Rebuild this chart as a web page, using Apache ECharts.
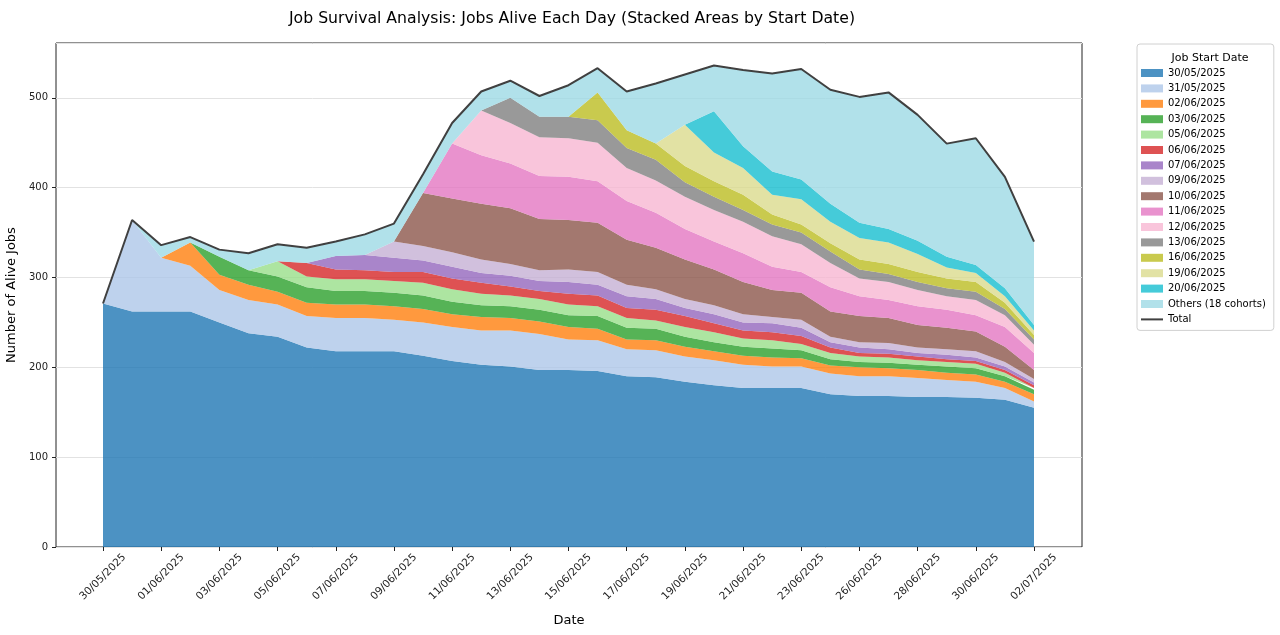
<!DOCTYPE html>
<html>
<head>
<meta charset="utf-8">
<script src="https://cdn.jsdelivr.net/npm/echarts@6/dist/echarts.min.js"></script>
<style>
  html, body { margin: 0; padding: 0; background: #fff; }
  #chart { width: 1280px; height: 635px; }
</style>
</head>
<body>
<div id="chart"></div>
<script>
// days on the x axis (one day is missing between 23/06 and 26/06)
const dates = ['30/05/2025','31/05/2025','01/06/2025','02/06/2025','03/06/2025','04/06/2025','05/06/2025',
  '06/06/2025','07/06/2025','08/06/2025','09/06/2025','10/06/2025','11/06/2025','12/06/2025','13/06/2025',
  '14/06/2025','15/06/2025','16/06/2025','17/06/2025','18/06/2025','19/06/2025','20/06/2025','21/06/2025',
  '22/06/2025','23/06/2025','24/06/2025','26/06/2025','27/06/2025','28/06/2025','29/06/2025','30/06/2025',
  '01/07/2025','02/07/2025'];

// alive jobs per start-date cohort, one value per day
const c3005 = [271,262,262,262,250,238,234,222,218,218,218,213,207,203,201,197,197,196,190,189,184,180,177,177,177,170,168,168,167,167,166,164,155];
const c3105 = [0,102,60,51,36,37,36,35,37,37,35,37,38,38,40,40,34,34,30,30,28,28,26,24,24,23,22,22,21,19,18,13,7];
const c0206 = [0,0,0,26,17,17,14,15,15,15,15,15,14,15,14,14,14,13,11,11,11,10,10,10,9,9,10,9,9,8,8,7,8];
const c0306 = [0,0,0,0,20,16,17,17,15,15,15,15,14,13,13,13,13,14,13,13,11,10,10,10,9,7,6,6,6,7,7,6,5];
const c0506 = [0,0,0,0,0,0,17,12,13,13,13,14,14,13,12,12,12,11,11,9,11,11,9,9,7,7,6,6,5,5,5,4,2];
const c0606 = [0,0,0,0,0,0,0,15,11,10,10,12,12,12,10,9,12,12,11,12,12,10,9,9,9,6,4,4,4,3,3,3,3];
const c0706 = [0,0,0,0,0,0,0,0,15,17,16,13,13,11,12,11,13,12,13,12,9,10,9,10,9,6,6,5,4,5,4,4,3];
const c0906 = [0,0,0,0,0,0,0,0,0,0,18,16,16,15,13,12,14,14,13,11,10,10,9,7,9,6,6,7,6,6,7,5,4];
const c1006 = [0,0,0,0,0,0,0,0,0,0,0,59,60,62,62,57,55,55,50,46,44,40,36,30,30,28,29,28,25,24,22,17,10];
const c1106 = [0,0,0,0,0,0,0,0,0,0,0,0,61,54,50,48,48,46,43,39,34,31,32,26,23,27,22,20,21,20,18,22,19];
const c1206 = [0,0,0,0,0,0,0,0,0,0,0,0,0,50,45,43,43,43,37,36,36,35,35,34,31,27,20,20,18,15,17,13,9];
const c1306 = [0,0,0,0,0,0,0,0,0,0,0,0,0,0,28,23,24,25,22,23,16,15,13,13,13,13,10,9,9,9,9,7,6];
const c1606 = [0,0,0,0,0,0,0,0,0,0,0,0,0,0,0,0,0,31,20,18,18,17,17,11,9,9,11,11,11,11,11,7,5];
const c1906 = [0,0,0,0,0,0,0,0,0,0,0,0,0,0,0,0,0,0,0,0,46,32,30,22,28,24,24,24,20,12,10,7,5];
const c2006 = [0,0,0,0,0,0,0,0,0,0,0,0,0,0,0,0,0,0,0,0,0,46,24,26,22,20,17,15,15,12,9,9,6];
const others = [0,0,14,6,8,19,19,17,16,23,20,21,23,21,19,23,35,27,43,67,56,51,85,109,123,127,140,152,140,126,141,124,93];

const cohortNames = ['30/05/2025','31/05/2025','02/06/2025','03/06/2025','05/06/2025','06/06/2025','07/06/2025',
  '09/06/2025','10/06/2025','11/06/2025','12/06/2025','13/06/2025','16/06/2025','19/06/2025','20/06/2025',
  'Others (18 cohorts)'];
const cohortValues = [c3005,c3105,c0206,c0306,c0506,c0606,c0706,c0906,c1006,c1106,c1206,c1306,c1606,c1906,c2006,others];

// tab20 colours, drawn with alpha 0.8
const colors = ['31,119,180','174,199,232','255,127,14','44,160,44','152,223,138','214,39,40','148,103,189',
  '197,176,213','140,86,75','227,119,194','247,182,210','127,127,127','188,189,34','219,219,141','23,190,207',
  '158,218,229'];

const total = dates.map((d, i) => cohortValues.reduce((s, arr) => s + arr[i], 0));
const font = 'DejaVu Sans';
const yMax = 561;

let series = cohortNames.map((name, k) => ({
  name: name,
  type: 'line',
  stack: 'alive',
  xAxisIndex: 1, yAxisIndex: 1,
  symbol: 'none',
  lineStyle: {width: 0, opacity: 0},
  itemStyle: {color: 'rgba(' + colors[k] + ',0.8)'},
  areaStyle: {color: 'rgba(' + colors[k] + ',0.8)', opacity: 1},
  data: cohortValues[k]
}));
series.push({
  name: 'Total',
  type: 'line',
  xAxisIndex: 1, yAxisIndex: 1,
  symbol: 'none',
  z: 4,
  itemStyle: {color: '#404040'},
  lineStyle: {color: '#404040', width: 2},
  data: total
});

let legendData = cohortNames.map(n => ({name: n, icon: 'rect'}));
legendData.push({name: 'Total', icon: 'path://M0,0H22V2H0Z'});

let option = {
  animation: false,
  backgroundColor: '#fff',
  textStyle: {fontFamily: font},
  title: [{
    text: 'Job Survival Analysis: Jobs Alive Each Day (Stacked Areas by Start Date)',
    left: 567, top: 6, textAlign: 'center',
    textStyle: {fontFamily: font, fontSize: 15.7, fontWeight: 'normal', color: '#000'}
  }, {
    text: 'Job Start Date',
    left: 1205, top: 48, textAlign: 'center',
    textStyle: {fontFamily: font, fontSize: 11, fontWeight: 'normal', color: '#000'}
  }],
  // grid 0: axes frame, y ticks and grid lines; grid 1: the dates and the areas
  grid: [
    {left: 56, right: 198, top: 43, bottom: 88, outerBoundsMode: 'none', containLabel: false,
      show: true, borderColor: '#222', borderWidth: 1, backgroundColor: 'transparent'},
    {left: 103, right: 246, top: 43, bottom: 88, outerBoundsMode: 'none', containLabel: false}
  ],
  legend: {
    orient: 'vertical', left: 1137, top: 44,
    padding: [23, 8, 5, 4],
    itemWidth: 22, itemHeight: 8, itemGap: 3.4,
    borderColor: '#d0d0d0', borderWidth: 1, borderRadius: 3,
    textStyle: {fontFamily: font, fontSize: 10, lineHeight: 12, color: '#000'},
    data: legendData
  },
  xAxis: [{
    gridIndex: 0, type: 'value', min: 0, max: 1,
    name: 'Date', nameLocation: 'middle', nameGap: 67,
    nameTextStyle: {fontFamily: font, fontSize: 13, color: '#000'},
    axisLine: {show: false}, axisTick: {show: false}, axisLabel: {show: false}, splitLine: {show: false}
  }, {
    gridIndex: 1, type: 'category', boundaryGap: false, data: dates, z: 5,
    axisLine: {show: false},
    axisTick: {show: true, interval: 1, length: 4, lineStyle: {color: '#222'}},
    axisLabel: {interval: 1, rotate: 45, margin: 30, align: 'center', verticalAlign: 'middle',
      fontFamily: font, fontSize: 10.5, color: '#222'},
    splitLine: {show: false}
  }],
  yAxis: [{
    gridIndex: 0, type: 'value', min: 0, max: yMax, interval: 100,
    name: 'Number of Alive Jobs', nameLocation: 'middle', nameGap: 35, nameRotate: 90,
    nameTextStyle: {fontFamily: font, fontSize: 13, color: '#000'},
    axisLine: {show: false},
    axisTick: {show: true, length: 4, lineStyle: {color: '#222'}},
    axisLabel: {margin: 8, fontFamily: font, fontSize: 10, color: '#222', showMaxLabel: false},
    splitLine: {show: true, lineStyle: {color: '#e2e2e2', width: 1}}
  }, {
    gridIndex: 1, type: 'value', min: 0, max: yMax, show: false
  }],
  series: series
};

let myChart = echarts.init(document.getElementById('chart'));
myChart.setOption(option);
</script>
</body>
</html>
